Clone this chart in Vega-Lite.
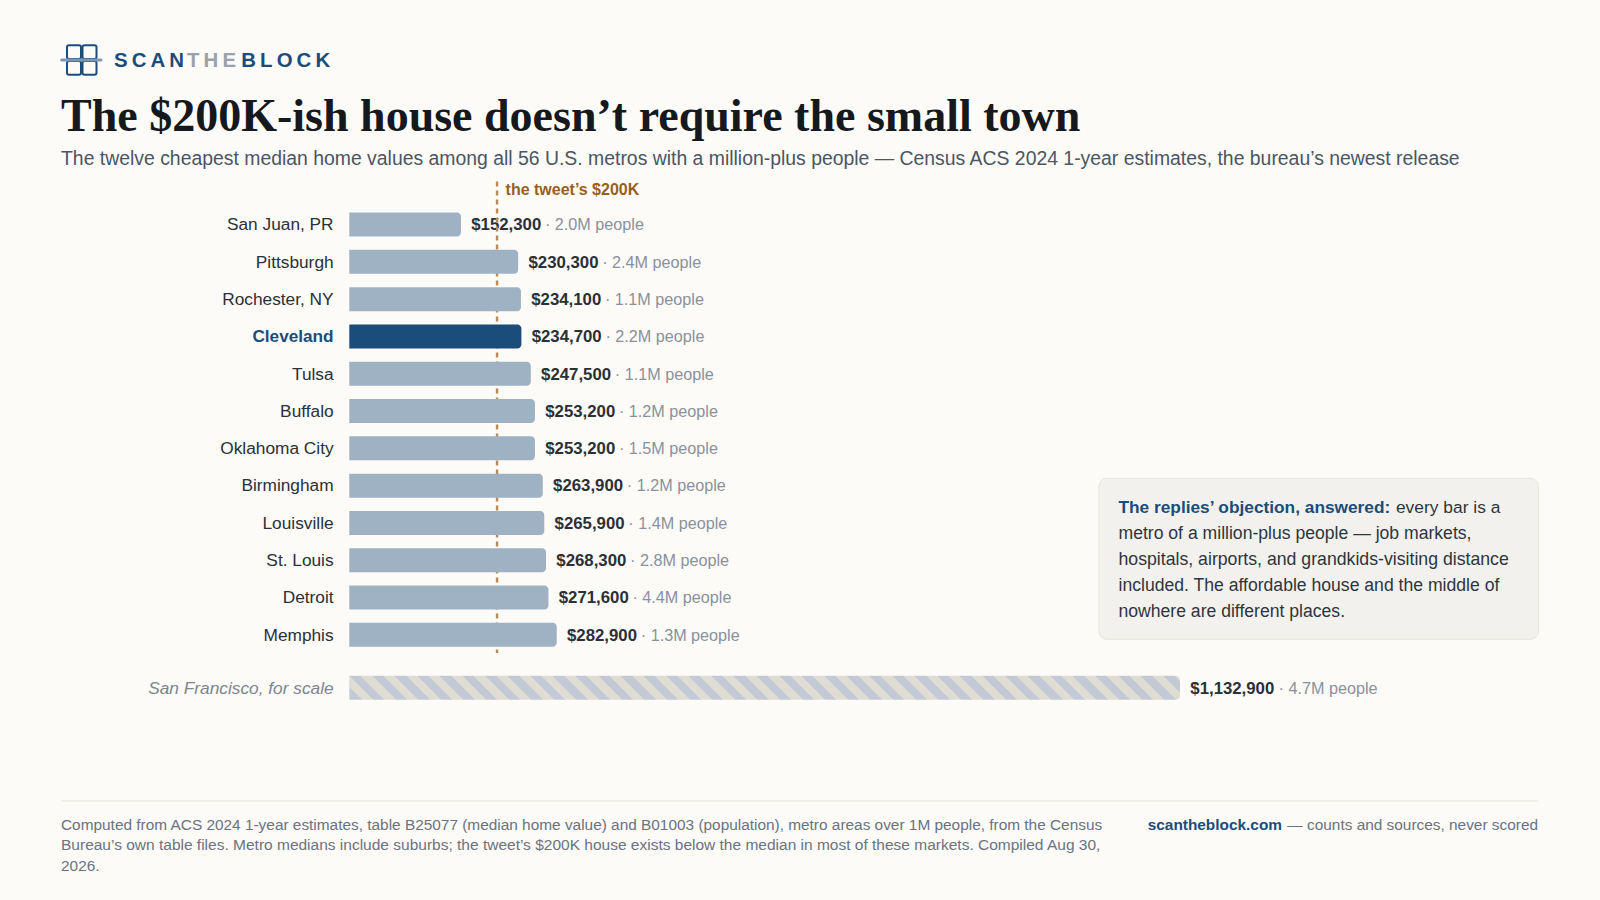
{
  "$schema": "https://vega.github.io/schema/vega-lite/v6.json",
  "width": 1600,
  "height": 900,
  "autosize": "none",
  "padding": 0,
  "background": "#FCFBF8",
  "title": {
    "text": "The $200K-ish house doesn’t require the small town",
    "subtitle": "The twelve cheapest median home values among all 56 U.S. metros with a million-plus people — Census ACS 2024 1-year estimates, the bureau’s newest release",
    "anchor": "start",
    "frame": "group",
    "dx": 61,
    "offset": -169,
    "font": "Liberation Serif",
    "fontSize": 46,
    "fontWeight": "bold",
    "color": "#15181D",
    "subtitleFont": "Liberation Sans",
    "subtitleFontSize": 19.4,
    "subtitleColor": "#4B5563",
    "subtitlePadding": 9
  },
  "config": {
    "view": {"stroke": null},
    "axis": {"disable": true},
    "legend": {"disable": true},
    "text": {"font": "Liberation Sans"}
  },
  "datasets": {
    "metros": [
      {"metro": "San Juan, PR", "value": 152300, "pop": 2.0, "slot": 1, "group": "peer"},
      {"metro": "Pittsburgh", "value": 230300, "pop": 2.4, "slot": 2, "group": "peer"},
      {"metro": "Rochester, NY", "value": 234100, "pop": 1.1, "slot": 3, "group": "peer"},
      {"metro": "Cleveland", "value": 234700, "pop": 2.2, "slot": 4, "group": "home"},
      {"metro": "Tulsa", "value": 247500, "pop": 1.1, "slot": 5, "group": "peer"},
      {"metro": "Buffalo", "value": 253200, "pop": 1.2, "slot": 6, "group": "peer"},
      {"metro": "Oklahoma City", "value": 253200, "pop": 1.5, "slot": 7, "group": "peer"},
      {"metro": "Birmingham", "value": 263900, "pop": 1.2, "slot": 8, "group": "peer"},
      {"metro": "Louisville", "value": 265900, "pop": 1.4, "slot": 9, "group": "peer"},
      {"metro": "St. Louis", "value": 268300, "pop": 2.8, "slot": 10, "group": "peer"},
      {"metro": "Detroit", "value": 271600, "pop": 4.4, "slot": 11, "group": "peer"},
      {"metro": "Memphis", "value": 282900, "pop": 1.3, "slot": 12, "group": "peer"},
      {"metro": "San Francisco, for scale", "value": 1132900, "pop": 4.7, "slot": 13.42, "group": "scale"}
    ]
  },
  "data": {"name": "metros"},
  "transform": [
    {"calculate": "'· ' + format(datum.pop, '.1f') + 'M people'", "as": "popLabel"}
  ],
  "layer": [
    {
      "data": {"values": [{"note": "box"}]},
      "mark": {"type": "rect", "fill": "#F2F1ED", "stroke": "#E4E3DD", "strokeWidth": 1, "cornerRadius": 8},
      "encoding": {
        "x": {"datum": 1022441, "type": "quantitative", "scale": {"domain": [-476380, 1705700], "nice": false, "zero": false, "padding": 0}},
        "x2": {"datum": 1621558},
        "y": {"datum": 7.803, "type": "quantitative", "scale": {"domain": [-5.02, 19.109], "nice": false, "zero": false, "reverse": true, "padding": 0}},
        "y2": {"datum": 12.119}
      }
    },
    {
      "transform": [{"filter": "datum.group !== 'home' && datum.group !== 'scale'"}],
      "mark": {"type": "text", "align": "right", "baseline": "alphabetic", "dx": -15.7, "dy": 5.8, "fontSize": 17.3, "fill": "#2B3036"},
      "encoding": {
        "x": {"datum": 0, "type": "quantitative"},
        "y": {"field": "slot", "type": "quantitative"},
        "text": {"field": "metro"}
      }
    },
    {
      "transform": [{"filter": "datum.group === 'home'"}],
      "mark": {"type": "text", "align": "right", "baseline": "alphabetic", "dx": -15.7, "dy": 5.8, "fontSize": 17.2, "fontWeight": "bold", "fill": "#1B4D7A"},
      "encoding": {
        "x": {"datum": 0, "type": "quantitative"},
        "y": {"field": "slot", "type": "quantitative"},
        "text": {"field": "metro"}
      }
    },
    {
      "transform": [{"filter": "datum.group === 'scale'"}],
      "mark": {"type": "text", "align": "right", "baseline": "alphabetic", "dx": -15.7, "dy": 6, "fontSize": 17.3, "fontStyle": "italic", "fill": "#7D8590"},
      "encoding": {
        "x": {"datum": 0, "type": "quantitative"},
        "y": {"field": "slot", "type": "quantitative"},
        "text": {"field": "metro"}
      }
    },
    {
      "mark": {"type": "text", "align": "left", "baseline": "alphabetic", "dx": 10.3, "dy": 5.8, "fontSize": 16.8, "fontWeight": "bold", "fill": "#2B3036"},
      "encoding": {
        "x": {"field": "value", "type": "quantitative"},
        "y": {"field": "slot", "type": "quantitative"},
        "text": {"field": "value", "type": "quantitative", "format": "$,.0f"}
      }
    },
    {
      "transform": [{"filter": "datum.group !== 'scale'"}],
      "mark": {"type": "text", "align": "left", "baseline": "alphabetic", "dx": 84, "dy": 5.8, "fontSize": 16.2, "fill": "#8A919C"},
      "encoding": {
        "x": {"field": "value", "type": "quantitative"},
        "y": {"field": "slot", "type": "quantitative"},
        "text": {"field": "popLabel"}
      }
    },
    {
      "transform": [{"filter": "datum.group === 'scale'"}],
      "mark": {"type": "text", "align": "left", "baseline": "alphabetic", "dx": 98.6, "dy": 5.8, "fontSize": 16.2, "fill": "#8A919C"},
      "encoding": {
        "x": {"field": "value", "type": "quantitative"},
        "y": {"field": "slot", "type": "quantitative"},
        "text": {"field": "popLabel"}
      }
    },
    {
      "data": {"values": [{"note": "the tweet’s $200K"}]},
      "mark": {"type": "rule", "stroke": "#B98A55", "strokeWidth": 2.4, "strokeDash": [5, 4]},
      "encoding": {
        "x": {"datum": 201500, "type": "quantitative"},
        "y": {"datum": -0.1541, "type": "quantitative"},
        "y2": {"datum": 12.4869}
      }
    },
    {
      "data": {"values": [{"note": "the tweet’s $200K"}]},
      "mark": {"type": "text", "align": "left", "baseline": "alphabetic", "dx": 8.5, "fontSize": 16, "fontWeight": "bold", "fill": "#9A5F1C"},
      "encoding": {
        "x": {"datum": 201500, "type": "quantitative"},
        "y": {"datum": 0.2079, "type": "quantitative"},
        "text": {"field": "note"}
      }
    },
    {
      "transform": [{"filter": "datum.group !== 'scale'"}],
      "mark": {"type": "bar", "orient": "horizontal", "height": 24, "cornerRadiusEnd": 4},
      "encoding": {
        "x": {"field": "value", "type": "quantitative", "stack": null},
        "y": {"field": "slot", "type": "quantitative"},
        "color": {"field": "group", "type": "nominal", "scale": {"domain": ["peer", "home"], "range": ["#9FB2C4", "#1B4D7A"]}}
      }
    },
    {
      "transform": [{"filter": "datum.group === 'scale'"}],
      "mark": {
        "type": "bar", "orient": "horizontal", "height": 24, "cornerRadiusEnd": 4,
        "fill": {
          "gradient": "linear", "x1": -0.03008, "y1": 0.02975, "x2": 1, "y2": 0,
          "stops": [
            {"offset":0,"color":"#DFDCD3"},{"offset":0.0036,"color":"#DFDCD3"},{"offset":0.0036,"color":"#C3CAD5"},{"offset":0.0168,"color":"#C3CAD5"},
            {"offset":0.0168,"color":"#DFDCD3"},{"offset":0.03,"color":"#DFDCD3"},{"offset":0.03,"color":"#C3CAD5"},{"offset":0.0432,"color":"#C3CAD5"},
            {"offset":0.0432,"color":"#DFDCD3"},{"offset":0.0564,"color":"#DFDCD3"},{"offset":0.0564,"color":"#C3CAD5"},{"offset":0.0696,"color":"#C3CAD5"},
            {"offset":0.0696,"color":"#DFDCD3"},{"offset":0.0828,"color":"#DFDCD3"},{"offset":0.0828,"color":"#C3CAD5"},{"offset":0.096,"color":"#C3CAD5"},
            {"offset":0.096,"color":"#DFDCD3"},{"offset":0.1092,"color":"#DFDCD3"},{"offset":0.1092,"color":"#C3CAD5"},{"offset":0.1224,"color":"#C3CAD5"},
            {"offset":0.1224,"color":"#DFDCD3"},{"offset":0.1356,"color":"#DFDCD3"},{"offset":0.1356,"color":"#C3CAD5"},{"offset":0.1488,"color":"#C3CAD5"},
            {"offset":0.1488,"color":"#DFDCD3"},{"offset":0.162,"color":"#DFDCD3"},{"offset":0.162,"color":"#C3CAD5"},{"offset":0.1752,"color":"#C3CAD5"},
            {"offset":0.1752,"color":"#DFDCD3"},{"offset":0.1884,"color":"#DFDCD3"},{"offset":0.1884,"color":"#C3CAD5"},{"offset":0.2016,"color":"#C3CAD5"},
            {"offset":0.2016,"color":"#DFDCD3"},{"offset":0.2148,"color":"#DFDCD3"},{"offset":0.2148,"color":"#C3CAD5"},{"offset":0.228,"color":"#C3CAD5"},
            {"offset":0.228,"color":"#DFDCD3"},{"offset":0.2412,"color":"#DFDCD3"},{"offset":0.2412,"color":"#C3CAD5"},{"offset":0.2544,"color":"#C3CAD5"},
            {"offset":0.2544,"color":"#DFDCD3"},{"offset":0.2676,"color":"#DFDCD3"},{"offset":0.2676,"color":"#C3CAD5"},{"offset":0.2808,"color":"#C3CAD5"},
            {"offset":0.2808,"color":"#DFDCD3"},{"offset":0.294,"color":"#DFDCD3"},{"offset":0.294,"color":"#C3CAD5"},{"offset":0.3072,"color":"#C3CAD5"},
            {"offset":0.3072,"color":"#DFDCD3"},{"offset":0.3204,"color":"#DFDCD3"},{"offset":0.3204,"color":"#C3CAD5"},{"offset":0.3336,"color":"#C3CAD5"},
            {"offset":0.3336,"color":"#DFDCD3"},{"offset":0.3468,"color":"#DFDCD3"},{"offset":0.3468,"color":"#C3CAD5"},{"offset":0.36,"color":"#C3CAD5"},
            {"offset":0.36,"color":"#DFDCD3"},{"offset":0.3732,"color":"#DFDCD3"},{"offset":0.3732,"color":"#C3CAD5"},{"offset":0.3864,"color":"#C3CAD5"},
            {"offset":0.3864,"color":"#DFDCD3"},{"offset":0.3996,"color":"#DFDCD3"},{"offset":0.3996,"color":"#C3CAD5"},{"offset":0.4128,"color":"#C3CAD5"},
            {"offset":0.4128,"color":"#DFDCD3"},{"offset":0.426,"color":"#DFDCD3"},{"offset":0.426,"color":"#C3CAD5"},{"offset":0.4392,"color":"#C3CAD5"},
            {"offset":0.4392,"color":"#DFDCD3"},{"offset":0.4524,"color":"#DFDCD3"},{"offset":0.4524,"color":"#C3CAD5"},{"offset":0.4656,"color":"#C3CAD5"},
            {"offset":0.4656,"color":"#DFDCD3"},{"offset":0.4788,"color":"#DFDCD3"},{"offset":0.4788,"color":"#C3CAD5"},{"offset":0.492,"color":"#C3CAD5"},
            {"offset":0.492,"color":"#DFDCD3"},{"offset":0.5052,"color":"#DFDCD3"},{"offset":0.5052,"color":"#C3CAD5"},{"offset":0.5184,"color":"#C3CAD5"},
            {"offset":0.5184,"color":"#DFDCD3"},{"offset":0.5316,"color":"#DFDCD3"},{"offset":0.5316,"color":"#C3CAD5"},{"offset":0.5448,"color":"#C3CAD5"},
            {"offset":0.5448,"color":"#DFDCD3"},{"offset":0.558,"color":"#DFDCD3"},{"offset":0.558,"color":"#C3CAD5"},{"offset":0.5712,"color":"#C3CAD5"},
            {"offset":0.5712,"color":"#DFDCD3"},{"offset":0.5844,"color":"#DFDCD3"},{"offset":0.5844,"color":"#C3CAD5"},{"offset":0.5976,"color":"#C3CAD5"},
            {"offset":0.5976,"color":"#DFDCD3"},{"offset":0.6108,"color":"#DFDCD3"},{"offset":0.6108,"color":"#C3CAD5"},{"offset":0.624,"color":"#C3CAD5"},
            {"offset":0.624,"color":"#DFDCD3"},{"offset":0.6372,"color":"#DFDCD3"},{"offset":0.6372,"color":"#C3CAD5"},{"offset":0.6504,"color":"#C3CAD5"},
            {"offset":0.6504,"color":"#DFDCD3"},{"offset":0.6636,"color":"#DFDCD3"},{"offset":0.6636,"color":"#C3CAD5"},{"offset":0.6768,"color":"#C3CAD5"},
            {"offset":0.6768,"color":"#DFDCD3"},{"offset":0.69,"color":"#DFDCD3"},{"offset":0.69,"color":"#C3CAD5"},{"offset":0.7032,"color":"#C3CAD5"},
            {"offset":0.7032,"color":"#DFDCD3"},{"offset":0.7164,"color":"#DFDCD3"},{"offset":0.7164,"color":"#C3CAD5"},{"offset":0.7296,"color":"#C3CAD5"},
            {"offset":0.7296,"color":"#DFDCD3"},{"offset":0.7428,"color":"#DFDCD3"},{"offset":0.7428,"color":"#C3CAD5"},{"offset":0.756,"color":"#C3CAD5"},
            {"offset":0.756,"color":"#DFDCD3"},{"offset":0.7692,"color":"#DFDCD3"},{"offset":0.7692,"color":"#C3CAD5"},{"offset":0.7824,"color":"#C3CAD5"},
            {"offset":0.7824,"color":"#DFDCD3"},{"offset":0.7956,"color":"#DFDCD3"},{"offset":0.7956,"color":"#C3CAD5"},{"offset":0.8088,"color":"#C3CAD5"},
            {"offset":0.8088,"color":"#DFDCD3"},{"offset":0.822,"color":"#DFDCD3"},{"offset":0.822,"color":"#C3CAD5"},{"offset":0.8352,"color":"#C3CAD5"},
            {"offset":0.8352,"color":"#DFDCD3"},{"offset":0.8484,"color":"#DFDCD3"},{"offset":0.8484,"color":"#C3CAD5"},{"offset":0.8616,"color":"#C3CAD5"},
            {"offset":0.8616,"color":"#DFDCD3"},{"offset":0.8748,"color":"#DFDCD3"},{"offset":0.8748,"color":"#C3CAD5"},{"offset":0.888,"color":"#C3CAD5"},
            {"offset":0.888,"color":"#DFDCD3"},{"offset":0.9012,"color":"#DFDCD3"},{"offset":0.9012,"color":"#C3CAD5"},{"offset":0.9144,"color":"#C3CAD5"},
            {"offset":0.9144,"color":"#DFDCD3"},{"offset":0.9276,"color":"#DFDCD3"},{"offset":0.9276,"color":"#C3CAD5"},{"offset":0.9408,"color":"#C3CAD5"},
            {"offset":0.9408,"color":"#DFDCD3"},{"offset":0.954,"color":"#DFDCD3"},{"offset":0.954,"color":"#C3CAD5"},{"offset":0.9672,"color":"#C3CAD5"},
            {"offset":0.9672,"color":"#DFDCD3"},{"offset":0.9804,"color":"#DFDCD3"},{"offset":0.9804,"color":"#C3CAD5"},{"offset":0.9936,"color":"#C3CAD5"},
            {"offset":0.9936,"color":"#DFDCD3"},{"offset":1,"color":"#DFDCD3"}
          ]
        }
      },
      "encoding": {
        "x": {"field": "value", "type": "quantitative", "stack": null},
        "y": {"field": "slot", "type": "quantitative"}
      }
    },
    {
      "data": {"values": [{"note": "The replies’ objection, answered:"}]},
      "mark": {"type": "text", "align": "left", "baseline": "alphabetic", "fontSize": 17.3, "fontWeight": "bold", "fill": "#1B4D7A"},
      "encoding": {"x": {"datum": 1049000, "type": "quantitative"}, "y": {"datum": 8.7252, "type": "quantitative"}, "text": {"field": "note"}}
    },
    {
      "data": {"values": [{"note": "every bar is a"}]},
      "mark": {"type": "text", "align": "left", "baseline": "alphabetic", "fontSize": 17.4, "fill": "#2F353D"},
      "encoding": {"x": {"datum": 1427400, "type": "quantitative"}, "y": {"datum": 8.7252, "type": "quantitative"}, "text": {"field": "note"}}
    },
    {
      "data": {"values": [{"note": "metro of a million-plus people — job markets,"}]},
      "mark": {"type": "text", "align": "left", "baseline": "alphabetic", "fontSize": 17.6, "fill": "#2F353D"},
      "encoding": {"x": {"datum": 1049000, "type": "quantitative"}, "y": {"datum": 9.4303, "type": "quantitative"}, "text": {"field": "note"}}
    },
    {
      "data": {"values": [{"note": "hospitals, airports, and grandkids-visiting distance"}]},
      "mark": {"type": "text", "align": "left", "baseline": "alphabetic", "fontSize": 17.7, "fill": "#2F353D"},
      "encoding": {"x": {"datum": 1049000, "type": "quantitative"}, "y": {"datum": 10.1274, "type": "quantitative"}, "text": {"field": "note"}}
    },
    {
      "data": {"values": [{"note": "included. The affordable house and the middle of"}]},
      "mark": {"type": "text", "align": "left", "baseline": "alphabetic", "fontSize": 17.6, "fill": "#2F353D"},
      "encoding": {"x": {"datum": 1049000, "type": "quantitative"}, "y": {"datum": 10.8244, "type": "quantitative"}, "text": {"field": "note"}}
    },
    {
      "data": {"values": [{"note": "nowhere are different places."}]},
      "mark": {"type": "text", "align": "left", "baseline": "alphabetic", "fontSize": 17.6, "fill": "#2F353D"},
      "encoding": {"x": {"datum": 1049000, "type": "quantitative"}, "y": {"datum": 11.5214, "type": "quantitative"}, "text": {"field": "note"}}
    },
    {
      "data": {"values": [{"note": "footer"}]},
      "mark": {"type": "rule", "stroke": "#E4E3DD", "strokeWidth": 1},
      "encoding": {"x": {"datum": -393178, "type": "quantitative"}, "x2": {"datum": 1621150}, "y": {"datum": 16.4545, "type": "quantitative"}}
    },
    {
      "data": {"values": [{"note": "Computed from ACS 2024 1-year estimates, table B25077 (median home value) and B01003 (population), metro areas over 1M people, from the Census"}]},
      "mark": {"type": "text", "align": "left", "baseline": "alphabetic", "fontSize": 15.4, "fill": "#6B7280"},
      "encoding": {"x": {"datum": -393178, "type": "quantitative"}, "y": {"datum": 17.225, "type": "quantitative"}, "text": {"field": "note"}}
    },
    {
      "data": {"values": [{"note": "Bureau’s own table files. Metro medians include suburbs; the tweet’s $200K house exists below the median in most of these markets. Compiled Aug 30,"}]},
      "mark": {"type": "text", "align": "left", "baseline": "alphabetic", "fontSize": 15.5, "fill": "#6B7280"},
      "encoding": {"x": {"datum": -393178, "type": "quantitative"}, "y": {"datum": 17.78, "type": "quantitative"}, "text": {"field": "note"}}
    },
    {
      "data": {"values": [{"note": "2026."}]},
      "mark": {"type": "text", "align": "left", "baseline": "alphabetic", "fontSize": 15.4, "fill": "#6B7280"},
      "encoding": {"x": {"datum": -393178, "type": "quantitative"}, "y": {"datum": 18.325, "type": "quantitative"}, "text": {"field": "note"}}
    },
    {
      "data": {"values": [{"note": "scantheblock.com"}]},
      "mark": {"type": "text", "align": "right", "baseline": "alphabetic", "fontSize": 15.4, "fontWeight": "bold", "fill": "#1B4D7A"},
      "encoding": {"x": {"datum": 1272016, "type": "quantitative"}, "y": {"datum": 17.225, "type": "quantitative"}, "text": {"field": "note"}}
    },
    {
      "data": {"values": [{"note": "— counts and sources, never scored"}]},
      "mark": {"type": "text", "align": "right", "baseline": "alphabetic", "fontSize": 15.4, "fill": "#6B7280"},
      "encoding": {"x": {"datum": 1621150, "type": "quantitative"}, "y": {"datum": 17.225, "type": "quantitative"}, "text": {"field": "note"}}
    },
    {
      "data": {"values": [{"note": "logo"}]},
      "mark": {"type": "rect", "fillOpacity": 0, "stroke": "#1B4D7A", "strokeWidth": 2, "cornerRadius": 2},
      "encoding": {"x": {"datum": -385000, "type": "quantitative"}, "x2": {"datum": -365908}, "y": {"datum": -3.8055, "type": "quantitative"}, "y2": {"datum": -3.4383}}
    },
    {
      "data": {"values": [{"note": "logo"}]},
      "mark": {"type": "rect", "fillOpacity": 0, "stroke": "#1B4D7A", "strokeWidth": 2, "cornerRadius": 2},
      "encoding": {"x": {"datum": -363862, "type": "quantitative"}, "x2": {"datum": -344769}, "y": {"datum": -3.8055, "type": "quantitative"}, "y2": {"datum": -3.4383}}
    },
    {
      "data": {"values": [{"note": "logo"}]},
      "mark": {"type": "rect", "fillOpacity": 0, "stroke": "#1B4D7A", "strokeWidth": 2, "cornerRadius": 2},
      "encoding": {"x": {"datum": -385000, "type": "quantitative"}, "x2": {"datum": -365908}, "y": {"datum": -3.3846, "type": "quantitative"}, "y2": {"datum": -3.0173}}
    },
    {
      "data": {"values": [{"note": "logo"}]},
      "mark": {"type": "rect", "fillOpacity": 0, "stroke": "#1B4D7A", "strokeWidth": 2, "cornerRadius": 2},
      "encoding": {"x": {"datum": -363862, "type": "quantitative"}, "x2": {"datum": -344769}, "y": {"datum": -3.3846, "type": "quantitative"}, "y2": {"datum": -3.0173}}
    },
    {
      "data": {"values": [{"note": "logo"}]},
      "mark": {"type": "rule", "stroke": "#7C98B3", "strokeWidth": 3, "strokeCap": "round"},
      "encoding": {"x": {"datum": -392229, "type": "quantitative"}, "x2": {"datum": -338632}, "y": {"datum": -3.4114, "type": "quantitative"}}
    },
    {
      "data": {"values": [{"note": "S\u2009C\u2009A\u2009N"}]},
      "mark": {"type": "text", "align": "left", "baseline": "alphabetic", "fontSize": 20.4, "fontWeight": "bold", "fill": "#1B4D7A"},
      "encoding": {"x": {"datum": -320900, "type": "quantitative"}, "y": {"datum": -3.2318, "type": "quantitative"}, "text": {"field": "note"}}
    },
    {
      "data": {"values": [{"note": "T\u2009H\u2009E"}]},
      "mark": {"type": "text", "align": "left", "baseline": "alphabetic", "fontSize": 20.4, "fontWeight": "bold", "fill": "#9AA1AC"},
      "encoding": {"x": {"datum": -221300, "type": "quantitative"}, "y": {"datum": -3.2318, "type": "quantitative"}, "text": {"field": "note"}}
    },
    {
      "data": {"values": [{"note": "B\u2009L\u2009O\u2009C\u2009K"}]},
      "mark": {"type": "text", "align": "left", "baseline": "alphabetic", "fontSize": 20.4, "fontWeight": "bold", "fill": "#1B4D7A"},
      "encoding": {"x": {"datum": -147300, "type": "quantitative"}, "y": {"datum": -3.2318, "type": "quantitative"}, "text": {"field": "note"}}
    }
  ]
}
